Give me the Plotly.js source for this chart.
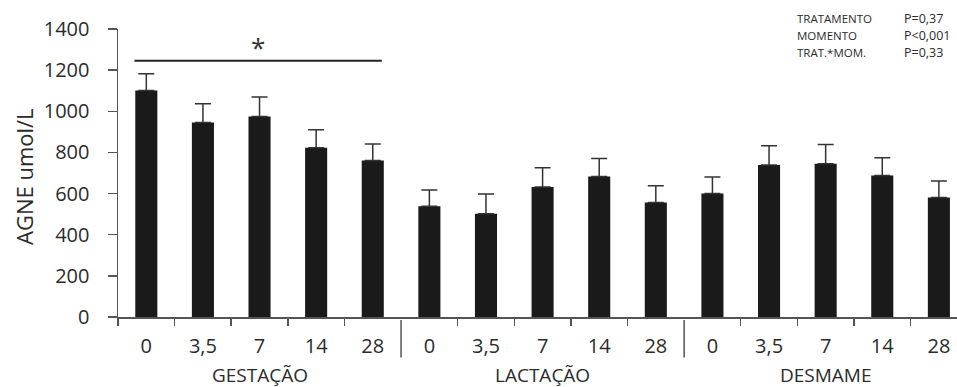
<!DOCTYPE html>
<html><head><meta charset="utf-8">
<script src="https://cdn.plot.ly/plotly-3.0.1.min.js"></script>
<style>body{margin:0;background:#fff}#c{width:957px;height:387px}</style>
</head><body><div id="c"></div>
<script>
const tickLabels = ["0","3,5","7","14","28","0","3,5","7","14","28","0","3,5","7","14","28"];
const groups = ["GESTAÇÃO","LACTAÇÃO","DESMAME"];
const values = [1101, 946, 975, 823, 761, 538, 502, 632, 683, 557, 600, 739, 745, 688, 581];
const errPlus = [82, 91, 94, 87, 80, 79, 96, 94, 87, 81, 81, 94, 94, 86, 80];
const stats = ["TRATAMENTO","MOMENTO","TRAT.*MOM."];
const pvals = ["P=0,37","P<0,001","P=0,33"];
const sigBar = {x0:-0.21, x1:4.16, y:1246, label:"*"};

const xIdx = values.map((v,i)=>i);
const minorTicks = [];
for (let i=-0.5;i<14.5;i+=1){ if (Math.abs(i-4.5)>0.01 && Math.abs(i-9.5)>0.01) minorTicks.push(i); }

const font = "'Open Sans', sans-serif";
const txt = '#2b2b2b';
const trace = {
  type:'bar', x:xIdx, y:values, width:0.39,
  marker:{color:'#1a1a1a', line:{width:0}},
  error_y:{type:'data', array:errPlus, arrayminus:values.map(()=>0), symmetric:false,
           color:'#333', thickness:1.5, width:8},
  hoverinfo:'none'
};
const pw = 957-118, ph = 387-29-70;
const layout = {
  width:957, height:387, margin:{l:118, r:0, t:29, b:70},
  paper_bgcolor:'#fff', plot_bgcolor:'#fff', showlegend:false,
  font:{family:font, color:txt},
  xaxis:{range:[-0.5,14.32], tickvals:xIdx, ticktext:tickLabels, ticks:'', showgrid:false, zeroline:false,
    showline:true, linecolor:'#555', linewidth:1.5, tickfont:{family:font,size:20,color:txt},
    ticklabelstandoff:10,
    minor:{tickvals:minorTicks, ticks:'outside', ticklen:7, tickcolor:'#555', tickwidth:1.5, showgrid:false}},
  yaxis:{range:[0,1400], tickvals:[0,200,400,600,800,1000,1200,1400], ticks:'outside', ticklen:9,
    tickcolor:'#555', tickwidth:1.5, showline:true, linecolor:'#555', linewidth:1.5, showgrid:false, zeroline:false,
    tickfont:{family:font,size:20,color:txt}, ticklabelstandoff:14},
  shapes:[
    {type:'line', xref:'x', yref:'paper', x0:4.5, x1:4.5, y0:-0.01, y1:-0.141, line:{color:'#555', width:1.5}},
    {type:'line', xref:'x', yref:'paper', x0:9.5, x1:9.5, y0:-0.01, y1:-0.141, line:{color:'#555', width:1.5}},
    {type:'line', xref:'x', yref:'y', x0:sigBar.x0, x1:sigBar.x1, y0:sigBar.y, y1:sigBar.y, line:{color:'#222', width:2}}
  ],
  annotations:[]
};
// y axis title
layout.annotations.push({x:(24-118)/pw, y:(387-70-177)/ph, xref:'paper', yref:'paper', text:'AGNE umol/L',
  textangle:-90, showarrow:false, xanchor:'center', yanchor:'middle', font:{family:font,size:22,color:txt}});
// significance label
layout.annotations.push({x:(sigBar.x0+sigBar.x1)/2, y:sigBar.y, xref:'x', yref:'y', text:sigBar.label, showarrow:false,
  yanchor:'bottom', yshift:-6, font:{family:font,size:26,color:'#333'}});
groups.forEach((g,i)=>layout.annotations.push({x:2+5*i, y:-0.2, xref:'x', yref:'paper', text:g, showarrow:false,
  font:{family:font,size:19,color:txt}, xanchor:'center', yanchor:'middle'}));
stats.forEach((s,i)=>{
  const py = 18 + 17*i;
  const yp = (387-70-py)/ph;
  layout.annotations.push({x:(795-118)/pw, y:yp, xref:'paper', yref:'paper', text:s, showarrow:false,
    xanchor:'left', yanchor:'middle', font:{family:font,size:11.5,color:txt}});
  layout.annotations.push({x:(902-118)/pw, y:yp, xref:'paper', yref:'paper', text:pvals[i], showarrow:false,
    xanchor:'left', yanchor:'middle', font:{family:font,size:12.5,color:txt}});
});
Plotly.newPlot('c',[trace],layout,{staticPlot:true});
</script></body></html>
